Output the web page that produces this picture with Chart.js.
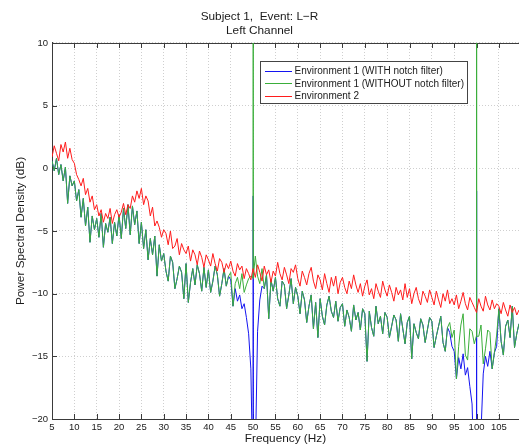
<!DOCTYPE html>
<html><head><meta charset="utf-8">
<script src="https://cdn.jsdelivr.net/npm/chart.js@4/dist/chart.umd.min.js"></script>
<style>html,body{margin:0;padding:0;background:#fff;overflow:hidden}</style>
</head><body>
<canvas id="c" width="519" height="445"></canvas>
<script>
const FONT = '"Liberation Sans", Arial, Helvetica, sans-serif';
const titleLines = ['Subject 1,  Event: L\u2212R', 'Left Channel'];
const xTitle = 'Frequency (Hz)';
const yTitle = 'Power Spectral Density (dB)';
const seriesLabels = ['Environment 1 (WITH notch filter)', 'Environment 1 (WITHOUT notch filter)', 'Environment 2'];
const xTicks = [5,10,15,20,25,30,35,40,45,50,55,60,65,70,75,80,85,90,95,100,105];
const yTicks = [10,5,0,-5,-10,-15,-20];

// frequency bins (Hz), 0.5 Hz spacing from 5 to 109.5
const freq = [];
for (let i = 0; i < 210; i++) freq.push(5 + i * 0.5);

// Environment 2 (red)
const env2 = [
  0.9, 1.8, 1.2, 0.6, 1.9, 1.3, 2.1, 0.8, 1.6, 0.7,
  0.4, -0.5, -0.9, -1.4, -0.8, -2.1, -1.6, -2.7, -2.2, -3.3,
  -2.9, -3.8, -3.3, -4.3, -3.6, -4.0, -3.2, -4.4, -3.7, -3.3,
  -3.9, -3.5, -2.8, -3.7, -2.9, -3.2, -2.2, -2.7, -1.8, -2.4,
  -1.6, -2.9, -2.2, -2.6, -3.8, -3.1, -4.6, -4.2, -4.7, -5.5,
  -4.9, -5.2, -6.1, -5.0, -6.4, -6.2, -5.6, -6.9, -6.0, -6.5,
  -6.8, -6.2, -7.4, -6.5, -6.9, -7.7, -6.6, -7.1, -7.9, -6.9,
  -7.3, -7.8, -6.8, -7.6, -8.2, -7.2, -7.5, -8.3, -7.6, -8.0,
  -7.4, -8.2, -8.6, -7.6, -8.1, -7.8, -8.8, -8.0, -8.4, -8.9,
  -8.0, -8.7, -7.7, -8.3, -9.0, -7.8, -8.5, -8.1, -9.1, -8.2,
  -8.6, -7.5, -8.4, -8.9, -7.9, -8.5, -9.2, -8.0, -8.3, -7.7,
  -8.8, -9.4, -8.2, -8.7, -9.3, -8.4, -7.9, -9.0, -9.6, -8.5,
  -8.9, -9.7, -8.4, -9.2, -9.9, -8.7, -9.4, -8.6, -10.0, -9.1,
  -8.7, -9.5, -10.0, -9.0, -9.6, -8.5, -9.3, -9.9, -9.2, -10.2,
  -9.4, -8.9, -10.1, -9.6, -10.4, -9.2, -9.8, -10.3, -9.0, -9.7,
  -10.2, -9.3, -9.9, -10.6, -9.5, -10.1, -9.7, -10.5, -9.2, -10.3,
  -9.6, -10.8, -10.0, -9.5, -10.4, -10.9, -9.8, -10.2, -10.7, -9.7,
  -10.3, -10.9, -9.8, -10.5, -11.1, -10.0, -10.6, -9.7, -10.8, -10.4,
  -10.9, -10.1, -11.2, -10.6, -9.9, -10.8, -11.3, -10.3, -10.7, -11.1,
  -11.5, -10.4, -11.0, -11.4, -10.2, -10.9, -11.3, -10.5, -11.2, -10.8,
  -11.0, -11.6, -10.7, -11.3, -11.8, -10.9, -11.5, -11.1, -11.7, -11.3
];

// Environment 1 without notch filter (green)
const env1Raw = [
  0.6, -0.2, 0.8, -0.5, 0.3, -1.0, 0.1, -2.8, -0.6, -1.4,
  -1.0, -2.6, -1.7, -3.9, -2.4, -4.6, -3.1, -5.9, -3.8, -4.9,
  -4.0, -5.5, -3.6, -6.3, -4.4, -5.1, -3.9, -6.0, -4.3, -5.4,
  -3.7, -5.6, -3.2, -4.8, -2.9, -5.3, -3.0, -4.5, -3.4, -6.0,
  -4.3, -6.4, -4.9, -7.3, -5.6, -6.9, -5.4, -8.6, -6.1, -7.4,
  -6.8, -8.2, -9.0, -7.0, -7.5, -9.6, -8.8, -7.8, -8.3, -10.4,
  -7.6, -10.7, -9.1, -8.0, -9.3, -7.7, -8.4, -9.8, -7.9, -9.5,
  -8.1, -9.9, -9.0, -7.8, -8.5, -10.2, -9.2, -8.0, -9.4, -8.6,
  -8.3, -11.0, -9.2, -8.7, -9.6, -8.4, -9.9, -9.3, -8.8, -8.6,
  -8.8, -7.0, -8.6, -9.2, -8.0, -9.6, -8.5, -12.0, -8.9, -9.8,
  -8.7, -10.4, -11.0, -9.0, -9.3, -11.2, -10.1, -8.8, -10.8, -9.5,
  -10.2, -11.6, -9.8, -10.5, -12.3, -11.0, -10.1, -12.8, -10.7, -13.5,
  -10.4, -11.8, -12.5, -10.9, -10.2, -11.4, -11.9, -10.6, -12.2, -11.1,
  -10.8, -12.6, -11.3, -11.9, -13.0, -10.9, -12.1, -11.5, -12.9, -11.2,
  -11.6, -15.4, -11.4, -12.7, -13.4, -11.0, -12.4, -11.8, -13.2, -11.5,
  -11.9, -13.5, -12.6, -11.7, -12.1, -13.8, -11.6, -12.8, -14.0, -12.3,
  -11.8, -15.2, -12.4, -13.1, -13.6, -12.0, -12.5, -13.9, -12.9, -11.9,
  -12.2, -14.3, -13.4, -12.6, -11.8, -13.9, -14.6, -12.7, -12.3, -13.5,
  -12.9, -16.8, -14.2, -12.5, -11.6, -14.9, -15.3, -12.8, -13.0, -14.0,
  -13.4, -13.4, -12.5, -15.6, -14.4, -12.9, -13.1, -16.0, -14.7, -13.3,
  -11.2, -13.8, -14.9, -12.6, -12.1, -13.5, -11.0, -14.3, -13.2, -12.4
];
// 50 Hz / 100 Hz line-noise peaks of the unfiltered signal
const env1RawPeakF = [49.95, 50.0, 50.05, 99.95, 100.0, 100.05];
const env1RawPeakV = [-8.7, 16, -8.7, -13.4, 16, -13.4];

// Environment 1 with notch filter (blue)
const env1Notch = [
  0.6, -0.2, 0.8, -0.5, 0.3, -1.0, 0.1, -2.8, -0.6, -1.4,
  -1.0, -2.6, -1.7, -3.9, -2.4, -4.6, -3.1, -5.9, -3.8, -4.9,
  -4.0, -5.5, -3.6, -6.3, -4.4, -5.1, -3.9, -6.0, -4.3, -5.4,
  -3.7, -5.6, -3.2, -4.8, -2.9, -5.3, -3.0, -4.5, -3.4, -6.0,
  -4.3, -6.4, -4.9, -7.3, -5.6, -6.9, -5.4, -8.6, -6.1, -7.4,
  -6.8, -8.2, -9.0, -7.0, -7.5, -9.6, -8.8, -7.8, -8.3, -10.4,
  -7.6, -10.7, -9.1, -8.0, -9.3, -7.7, -8.4, -9.8, -7.9, -9.5,
  -8.1, -9.9, -9.0, -7.8, -8.5, -10.2, -9.2, -8.0, -9.4, -8.6,
  -8.9, -11.0, -9.6, -10.6, -10.1, -11.2, -10.8, -11.9, -13.2, -16.0,
  -25, -23, -13.0, -10.5, -9.4, -9.6, -8.5, -12.0, -8.9, -9.8,
  -8.7, -10.4, -11.0, -9.0, -9.3, -11.2, -10.1, -8.8, -10.8, -9.5,
  -10.2, -11.6, -9.8, -10.5, -12.3, -11.0, -10.1, -12.8, -10.7, -13.5,
  -10.4, -11.8, -12.5, -10.9, -10.2, -11.4, -11.9, -10.6, -12.2, -11.1,
  -10.8, -12.6, -11.3, -11.9, -13.0, -10.9, -12.1, -11.5, -12.9, -11.2,
  -11.6, -15.4, -11.4, -12.7, -13.4, -11.0, -12.4, -11.8, -13.2, -11.5,
  -11.9, -13.5, -12.6, -11.7, -12.1, -13.8, -11.6, -12.8, -14.0, -12.3,
  -11.8, -15.2, -12.4, -13.1, -13.6, -12.0, -12.5, -13.9, -12.9, -11.9,
  -12.2, -14.3, -13.4, -12.6, -11.8, -13.9, -14.6, -12.7, -13.1, -14.2,
  -14.6, -16.8, -15.1, -16.0, -14.8, -16.5, -15.9, -17.4, -18.8, -25,
  -25, -25, -21, -16.4, -15.0, -15.8, -14.6, -16.0, -14.7, -14.2,
  -11.2, -13.8, -14.9, -12.6, -12.1, -13.5, -11.0, -14.3, -13.2, -12.4
];
const env1NotchPeakF = [49.95, 50.0, 50.05, 99.95, 100.0, 100.05];
const env1NotchPeakV = [-25, -2.2, -25, -25, -1.8, -25];

function toPoints(f, v, pf, pv) {
  const pts = f.map((x, i) => ({ x: x, y: v[i] }));
  if (pf) pf.forEach((x, i) => pts.push({ x: x, y: pv[i] }));
  return pts.map((p, i) => ({ p, i })).sort((a, b) => a.p.x - b.p.x || a.i - b.i).map(o => o.p);
}

const colors = ['#1414f0', '#3aae3a', '#ff1c1c'];

const frame = {
  id: 'frame',
  beforeDatasetsDraw(chart) {
    const { ctx, chartArea: a, scales } = chart;
    ctx.save();
    ctx.strokeStyle = '#3a3a3a';
    ctx.lineWidth = 1;
    ctx.beginPath();
    ctx.moveTo(a.left, a.top + 0.5); ctx.lineTo(a.right, a.top + 0.5);
    xTicks.forEach(v => {
      const px = Math.round(scales.x.getPixelForValue(v)) + 0.5;
      ctx.moveTo(px, a.bottom); ctx.lineTo(px, a.bottom - 5);
      ctx.moveTo(px, a.top); ctx.lineTo(px, a.top + 5);
    });
    yTicks.forEach(v => {
      const py = Math.round(scales.y.getPixelForValue(v)) + 0.5;
      ctx.moveTo(a.left, py); ctx.lineTo(a.left + 5, py);
    });
    ctx.stroke();
    ctx.restore();
  },
  afterDraw(chart) {
    const { ctx } = chart;
    const L = 260.5, T = 61.5, R = 467.5, B = 103.5;
    ctx.save();
    ctx.fillStyle = '#fff';
    ctx.fillRect(L, T, R - L, B - T);
    ctx.strokeStyle = '#444';
    ctx.lineWidth = 1;
    ctx.strokeRect(L, T, R - L, B - T);
    ctx.font = '10px ' + FONT;
    ctx.textBaseline = 'middle';
    ctx.textAlign = 'left';
    const rows = [71, 83.3, 95.6];
    chart.data.datasets.forEach((ds, i) => {
      ctx.strokeStyle = ds.borderColor;
      ctx.beginPath();
      ctx.moveTo(265, Math.round(rows[i]) + 0.5); ctx.lineTo(292, Math.round(rows[i]) + 0.5);
      ctx.stroke();
      ctx.fillStyle = '#1a1a1a';
      ctx.fillText(ds.label, 294.5, rows[i] + 0.5);
    });
    ctx.restore();
  }
};

new Chart(document.getElementById('c'), {
  type: 'line',
  data: {
    datasets: [
      { label: seriesLabels[0], data: toPoints(freq, env1Notch, env1NotchPeakF, env1NotchPeakV), borderColor: colors[0], order: 3 },
      { label: seriesLabels[1], data: toPoints(freq, env1Raw, env1RawPeakF, env1RawPeakV), borderColor: colors[1], order: 2 },
      { label: seriesLabels[2], data: toPoints(freq, env2), borderColor: colors[2], order: 1 }
    ].map(d => Object.assign(d, { borderWidth: 1, pointRadius: 0, tension: 0, fill: false }))
  },
  options: {
    responsive: false,
    animation: false,
    events: [],
    layout: { padding: { left: 0, right: 0, top: 0, bottom: 0 } },
    plugins: {
      legend: { display: false },
      tooltip: { enabled: false },
      title: {
        display: true,
        text: titleLines,
        color: '#1a1a1a',
        font: { family: FONT, size: 11.8, weight: 'normal', lineHeight: 1.144 },
        padding: { top: 10, bottom: 6 }
      }
    },
    scales: {
      x: {
        type: 'linear', min: 5, max: 109.5,
        afterBuildTicks: s => { s.ticks = xTicks.map(v => ({ value: v })); },
        afterFit: s => { s.height = 26; },
        ticks: { color: '#1a1a1a', font: { family: FONT, size: 9.5 }, padding: 3, maxRotation: 0, autoSkip: false },
        grid: { color: '#cfcfcf', lineWidth: 1, drawTicks: false },
        border: { display: true, color: '#3a3a3a', width: 1, dash: [1, 2] },
        title: { display: true, text: xTitle, color: '#1a1a1a', font: { family: FONT, size: 11.8, lineHeight: 1 }, padding: { top: 0, bottom: 0 } }
      },
      y: {
        type: 'linear', min: -20, max: 10,
        afterBuildTicks: s => { s.ticks = yTicks.map(v => ({ value: v })); },
        afterFit: s => { s.width = 52; },
        ticks: { color: '#1a1a1a', font: { family: FONT, size: 9.5 }, padding: 4, callback: v => String(v).replace('-', '\u2212') },
        grid: { color: '#cfcfcf', lineWidth: 1, drawTicks: false },
        border: { display: true, color: '#3a3a3a', width: 1, dash: [1, 2] },
        title: { display: true, text: yTitle, color: '#1a1a1a', font: { family: FONT, size: 11.8, lineHeight: 1.2 }, padding: { top: 14, bottom: 0 } }
      }
    }
  },
  plugins: [frame]
});
</script>
</body></html>
